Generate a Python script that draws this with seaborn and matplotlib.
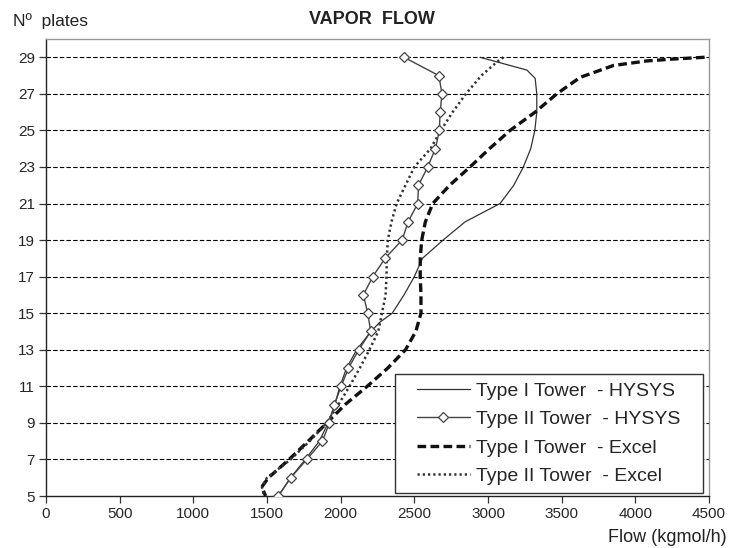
import pandas as pd
import numpy as np
import matplotlib
matplotlib.use("Agg")
import matplotlib.pyplot as plt
from matplotlib.patches import Rectangle
import seaborn as sns

sns.set_style("white")
plt.rcParams['font.family'] = ['Liberation Sans', 'DejaVu Sans']

# Type I Tower - HYSYS (thin solid)
t1_hysys_plate = [29, 28.3, 27.85, 27, 26, 25, 24, 23, 22, 21, 20, 19, 18, 17, 16, 15,
                  14.5, 14, 13, 12, 11, 10, 9, 8, 7, 6, 5]
t1_hysys_flow = [2946, 3264, 3320, 3331, 3331, 3318, 3290, 3240, 3175, 3082, 2845, 2695,
                 2555, 2500, 2430, 2350, 2265, 2205, 2109, 2040, 1995, 1960, 1915, 1855,
                 1760, 1660, 1577]

# Type II Tower - HYSYS (diamonds)
t2_hysys_plate = list(range(29, 4, -1))
t2_hysys_flow = [2430, 2666, 2688, 2675, 2670, 2643, 2591, 2528, 2523, 2458, 2417, 2301,
                 2218, 2154, 2184, 2204, 2123, 2053, 2003, 1958, 1924, 1876, 1770, 1661,
                 1577]

# Type I Tower - Excel (thick dashed)
t1_excel_plate = [29, 28.9, 28.8, 28.55, 27.9, 27, 26, 25, 24, 23, 22, 21, 20, 19, 18, 17,
                  16, 15, 14, 13, 12, 11, 10, 9, 8, 7, 6, 5.5, 5]
t1_excel_flow = [4470, 4250, 4078, 3851, 3625, 3467, 3320, 3150, 3010, 2878, 2740, 2625,
                 2575, 2550, 2540, 2540, 2545, 2545, 2510, 2440, 2320, 2180, 2030, 1906,
                 1780, 1650, 1510, 1465, 1490]

# Type II Tower - Excel (dotted)
t2_excel_plate = [29, 28.74, 28, 27, 26, 25, 24, 23, 22, 21, 20, 19, 18, 17, 16, 15, 14,
                  13, 12, 11, 10, 9, 8, 7, 6, 5.5, 5]
t2_excel_flow = [3105, 3060, 2955, 2850, 2760, 2680, 2610, 2500, 2440, 2380, 2345, 2320,
                 2313, 2311, 2305, 2280, 2255, 2195, 2130, 2060, 1985, 1905, 1790, 1660,
                 1500, 1465, 1480]

labels = ["Type I Tower  - HYSYS", "Type II Tower  - HYSYS",
          "Type I Tower  - Excel", "Type II Tower  - Excel"]

fig = plt.figure(figsize=(7.35, 5.48), dpi=100)
ax = fig.add_axes([46 / 735, 1 - 496 / 548, 663 / 735, 457 / 548])

# horizontal dashed grid
for yv in range(7, 30, 2):
    ax.axhline(yv, color='black', lw=0.8, ls=(0, (4, 2)), zorder=1)

sns.lineplot(x=t1_hysys_flow, y=t1_hysys_plate, sort=False, estimator=None, ax=ax,
             color='#333333', lw=0.9, label=labels[0], zorder=3)
sns.lineplot(x=t2_hysys_flow, y=t2_hysys_plate, sort=False, estimator=None, ax=ax,
             color='#444444', lw=1.0, marker='D', markersize=5.5,
             markerfacecolor='white', markeredgecolor='#444444', markeredgewidth=0.9,
             label=labels[1], zorder=4)
sns.lineplot(x=t1_excel_flow, y=t1_excel_plate, sort=False, estimator=None, ax=ax,
             color='#111111', lw=2.4, ls=(0, (2.6, 1.3)), label=labels[2], zorder=3)
sns.lineplot(x=t2_excel_flow, y=t2_excel_plate, sort=False, estimator=None, ax=ax,
             color='#333333', lw=1.8, ls=(0, (0.9, 1.2)), label=labels[3], zorder=3)

ax.set_xlim(0, 4500)
ax.set_ylim(5, 30)
ax.set_xticks(np.arange(0, 4501, 500))
ax.set_yticks(np.arange(5, 30, 2))
ax.tick_params(axis='both', direction='out', length=5, width=0.9, color='#333333',
               labelsize=11, pad=3, bottom=True, left=True)
ax.set_xlabel("")
ax.set_ylabel("")
for s in ['left', 'bottom']:
    ax.spines[s].set_color('#222222')
    ax.spines[s].set_linewidth(1.0)
for s in ['top', 'right']:
    ax.spines[s].set_color('#999999')
    ax.spines[s].set_linewidth(1.0)

# legend box
bx0, bx1 = (395 - 46) / 663, (703 - 46) / 663
by0, by1 = (496 - 493) / 457, (496 - 374) / 457
ax.add_patch(Rectangle((bx0, by0), bx1 - bx0, by1 - by0, transform=ax.transAxes,
                       facecolor='white', edgecolor='#333333', lw=1.0, zorder=4.9))
leg = ax.legend(loc='center', bbox_to_anchor=((bx0 + bx1) / 2, (by0 + by1) / 2),
                fontsize=14, frameon=False, handlelength=2.7, handletextpad=0.35,
                labelspacing=0.56, borderpad=0, borderaxespad=0)
leg.set_zorder(5)

fig.text(372 / 735, 1 - 20 / 548, "VAPOR  FLOW", fontsize=13, fontweight='bold',
         ha='center', va='center', color='#222222')
fig.text(13 / 735, 1 - 21 / 548, "Nº  plates", fontsize=12.5, ha='left', va='center',
         color='#222222')
fig.text(727 / 735, 1 - 537 / 548, "Flow (kgmol/h)", fontsize=13, ha='right',
         va='center', color='#222222')

fig.savefig("out.png", dpi=100)
